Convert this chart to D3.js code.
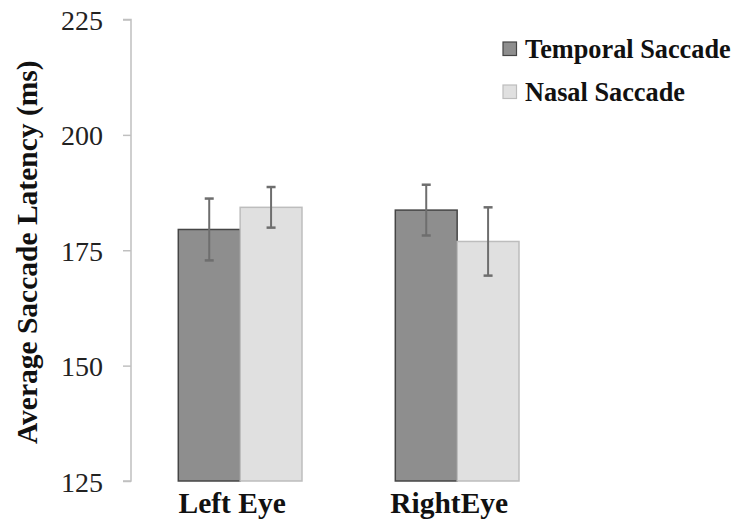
<!DOCTYPE html>
<html>
<head>
<meta charset="utf-8">
<script src="https://cdn.jsdelivr.net/npm/d3@7"></script>
<style>
  body { margin: 0; background: #fff; }
  text { font-family: "Liberation Serif", "Times New Roman", serif; }
</style>
</head>
<body>
<div id="chart"></div>
<script>
const eyes = ['Left Eye', 'RightEye'];
const saccades = ['Temporal Saccade', 'Nasal Saccade'];
const temporalMeans = [179.5, 183.7];
const nasalMeans = [184.3, 176.9];
const temporalErrors = [6.7, 5.5];
const nasalErrors = [4.4, 7.4];
const yTicks = [125, 150, 175, 200, 225];

const width = 738;
const height = 523;
const colors = ['#8e8e8e', '#e0e0e0'];
const strokes = ['#454545', '#bdbdbd'];

const svg = d3.select('#chart').append('svg')
  .attr('width', width)
  .attr('height', height);

const y = d3.scaleLinear()
  .domain([125, 225])
  .range([481, 19.5]);

const x0 = d3.scaleBand()
  .domain(eyes)
  .range([178.3, 519])
  .paddingInner(0.43);

const x1 = d3.scaleBand()
  .domain(saccades)
  .range([0, x0.bandwidth()]);

// y axis
const yAxis = svg.append('g')
  .attr('transform', 'translate(131,0)')
  .call(d3.axisLeft(y).tickValues(yTicks).tickSize(8).tickPadding(20));
yAxis.select('.domain').attr('stroke', '#c0c0c0').attr('stroke-width', 1.5)
  .attr('d', `M-8,${y(225)}H0V${y(125)}H-8`);
yAxis.selectAll('.tick line').attr('stroke', '#c0c0c0').attr('stroke-width', 1.5);
yAxis.selectAll('.tick text')
  .attr('font-size', '28px')
  .attr('fill', '#222')
  .attr('dy', '0.36em');

svg.append('text')
  .attr('transform', `translate(37,${(y(125) + y(225)) / 2 + 2}) rotate(-90)`)
  .attr('text-anchor', 'middle')
  .attr('font-size', '29.5px')
  .attr('font-weight', 'bold')
  .attr('fill', '#111')
  .text('Average Saccade Latency (ms)');

// bars
const rows = eyes.map((eye, i) => ({
  eye,
  values: [
    { key: saccades[0], mean: temporalMeans[i], err: temporalErrors[i], idx: 0 },
    { key: saccades[1], mean: nasalMeans[i], err: nasalErrors[i], idx: 1 }
  ]
}));

const groups = svg.selectAll('.group')
  .data(rows)
  .enter().append('g')
    .attr('class', 'group')
    .attr('transform', d => `translate(${x0(d.eye)},0)`);

groups.selectAll('rect')
  .data(d => d.values)
  .enter().append('rect')
    .attr('x', d => x1(d.key))
    .attr('y', d => y(d.mean))
    .attr('width', x1.bandwidth())
    .attr('height', d => y(125) - y(d.mean))
    .attr('fill', d => colors[d.idx])
    .attr('stroke', d => strokes[d.idx])
    .attr('stroke-width', 1.5);

const errs = groups.selectAll('.err')
  .data(d => d.values)
  .enter().append('g')
    .attr('class', 'err')
    .attr('stroke', '#6e6e6e')
    .attr('stroke-width', 2);

errs.append('line')
  .attr('x1', d => x1(d.key) + x1.bandwidth() / 2)
  .attr('x2', d => x1(d.key) + x1.bandwidth() / 2)
  .attr('y1', d => y(d.mean + d.err))
  .attr('y2', d => y(d.mean - d.err));

errs.selectAll('.cap')
  .data(d => [d.mean + d.err, d.mean - d.err].map(v => ({ v, cx: x1(d.key) + x1.bandwidth() / 2 })))
  .enter().append('line')
    .attr('class', 'cap')
    .attr('x1', d => d.cx - 4.5)
    .attr('x2', d => d.cx + 4.5)
    .attr('y1', d => y(d.v))
    .attr('y2', d => y(d.v))
    .attr('stroke-width', 2.5);

// x labels
groups.append('text')
  .attr('x', x0.bandwidth() / 2 - 8)
  .attr('y', 513)
  .attr('text-anchor', 'middle')
  .attr('font-size', '29.5px')
  .attr('font-weight', 'bold')
  .attr('fill', '#111')
  .text(d => d.eye);

// legend
const legend = svg.selectAll('.legend')
  .data(saccades)
  .enter().append('g')
    .attr('class', 'legend')
    .attr('transform', (d, i) => `translate(503,${42 + i * 43})`);

legend.append('rect')
  .attr('width', 13.5)
  .attr('height', 13.5)
  .attr('fill', (d, i) => colors[i])
  .attr('stroke', (d, i) => strokes[i])
  .attr('stroke-width', 1.2);

legend.append('text')
  .attr('x', 22)
  .attr('y', 16)
  .attr('font-size', '26.3px')
  .attr('font-weight', 'bold')
  .attr('fill', '#111')
  .text(d => d);
</script>
</body>
</html>
